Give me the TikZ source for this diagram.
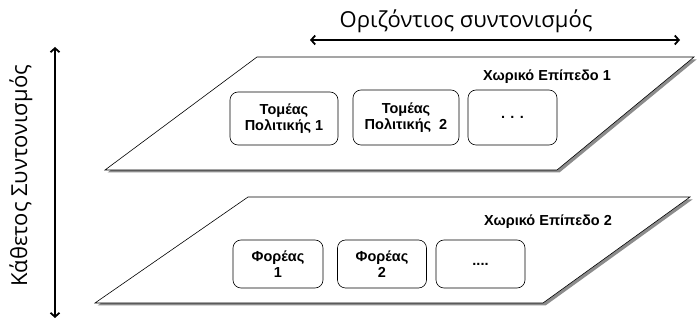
\documentclass[tikz,border=0pt]{standalone}
\usepackage{fontspec}
\setmainfont{Liberation Sans}
\newfontfamily\axisfont{Open Sans}
\usepackage{tikz}
\usetikzlibrary{shadows}
\usetikzlibrary{arrows.meta}
\tikzset{plane/.style={draw, fill=white, line width=0.6pt,
    drop shadow={shadow xshift=2.5pt, shadow yshift=-2.5pt, fill=gray!90, opacity=1}},
  unit/.style={draw, rounded corners=8pt, line width=0.6pt, align=center,
    font=\fontsize{14.5}{15.5}\selectfont\bfseries, inner sep=0pt},
  levelname/.style={font=\fontsize{14.5}{16}\selectfont\bfseries},
  axislabel/.style={font=\axisfont\fontsize{22}{26}\selectfont},
  axis/.style={line width=1.8pt, >={Straight Barb[length=4pt, width=9pt]}}}

\begin{document}
\begin{tikzpicture}[x=1pt, y=-1pt]
  \useasboundingbox (0, 0) rectangle (699, 320);

  % planes
  \draw[plane] (105, 170) -- (557, 170) -- (694, 57) -- (257, 57) -- cycle;
  \draw[plane] (95, 303) -- (543, 303) -- (690, 197) -- (248, 197) -- cycle;

  \node[levelname] at (547, 77) (level1) {Χωρικό Επίπεδο 1};
  \node[levelname] at (548, 222) (level2) {Χωρικό Επίπεδο 2};

  \node[unit, minimum width=108pt, minimum height=53pt] at (284, 118.5) (sector1) {Τομέας\\Πολιτικής 1};
  \node[unit, minimum width=106pt, minimum height=55pt] at (406, 117.5) (sector2) {Τομέας\\Πολιτικής \ 2};
  \node[unit, minimum width=89pt, minimum height=55pt] at (512.5, 117.5) (sectormore) {. . .};

  \node[unit, minimum width=90pt, minimum height=48pt] at (278, 264) (body1) {Φορέας\\1};
  \node[unit, minimum width=89pt, minimum height=48pt] at (382, 264) (body2) {Φορέας\\2};
  \node[unit, minimum width=89pt, minimum height=48pt] at (480.5, 264) (bodymore) {....};

  % coordination axes
  \coordinate (hleft) at (310, 40);
  \coordinate (hright) at (680, 40);
  \draw[axis, <->] (hleft) -- (hright);
  \node[axislabel] at (466, 21) (hlabel) {Οριζόντιος συντονισμός};

  \coordinate (vtop) at (55, 47);
  \coordinate (vbottom) at (55, 318);
  \draw[axis, <->] (vtop) -- (vbottom);
  \node[rotate=90, axislabel] at (21, 176) (vlabel) {Κάθετος Συντονισμός};
\end{tikzpicture}
\end{document}
